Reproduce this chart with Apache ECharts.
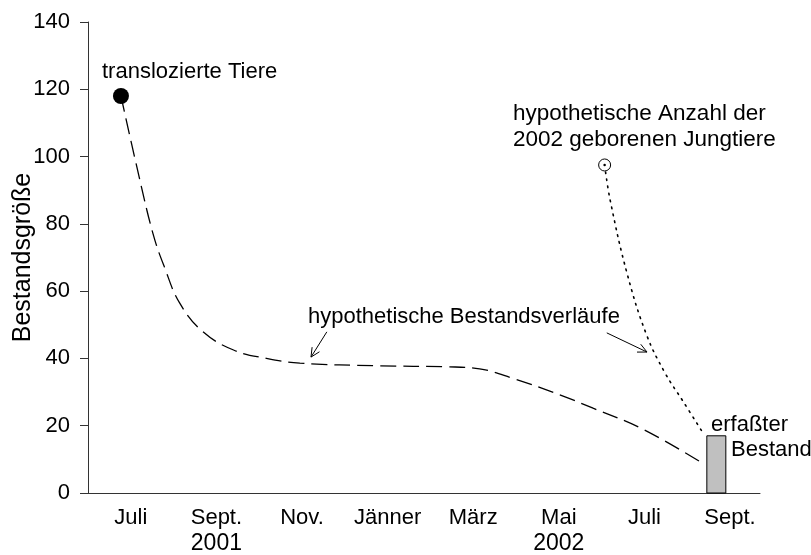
<!DOCTYPE html>
<html>
<head>
<meta charset="utf-8">
<script src="https://cdn.jsdelivr.net/npm/echarts@6/dist/echarts.min.js"></script>
<style>
    html, body { margin: 0; padding: 0; background: #fff; }
    #chart { width: 811px; height: 555px; }
</style>
</head>
<body>
<div id="chart"></div>
<script>
    // Monate ab Juli 2001 (0) bis Sept. 2002 (14)
    const monatPos = [0, 2, 4, 6, 8, 10, 12, 14];
    const monatNamen = ['Juli', 'Sept.', 'Nov.', 'Jänner', 'März', 'Mai', 'Juli', 'Sept.'];
    const jahrLabels = { 2: '2001', 10: '2002' };
    const yTicks = [0, 20, 40, 60, 80, 100, 120, 140];

    // hypothetischer Bestandsverlauf (gestrichelt)
    const bestandKurve = [
        [-0.23, 118], [0.14, 97], [0.52, 77], [0.79, 67], [1.14, 56.5], [1.68, 48],
        [2.4, 42.5], [3.17, 40], [3.95, 38.6], [5.8, 37.8], [7.4, 37.5], [8.15, 36.9],
        [8.9, 34.2], [10.1, 28.8], [10.8, 25.2], [11.96, 19], [13.34, 9]
    ];
    // hypothetische Jungtiere (punktiert)
    const jungtierKurve = [
        [11.07, 97.5], [11.2, 87], [11.6, 65], [12.05, 47], [12.48, 35.7], [12.9, 27.3], [13.37, 17.8]
    ];
    const translozierte = [[-0.23, 118]];
    const jungtierPunkt = [[11.07, 97.5]];
    const erfassterBestand = [[13.68, 17]];

    // Pfeile: [von, nach] in Datenkoordinaten
    const pfeile = [
        [[4.58, 47.9], [4.21, 40.4]],
        [[11.12, 47.6], [12.06, 41.9]]
    ];

    const font = 'Liberation Sans, Arial, sans-serif';
    const chart = echarts.init(document.getElementById('chart'));

    const option = {
        animation: false,
        grid: { left: 88, right: 51, top: 22, bottom: 62, containLabel: false, outerBoundsMode: 'none' },
        xAxis: {
            type: 'value',
            min: -1,
            max: 14.7,
            splitLine: { show: false },
            axisLine: { show: true, onZero: false, lineStyle: { color: '#333', width: 1 } },
            axisTick: { show: false },
            axisLabel: {
                customValues: monatPos,
                margin: 12,
                color: '#000',
                fontFamily: font,
                formatter: function (v) {
                    const i = monatPos.indexOf(v);
                    if (i < 0) return '';
                    let s = '{m|' + monatNamen[i] + '}';
                    if (jahrLabels[v]) s += '\n{y|' + jahrLabels[v] + '}';
                    return s;
                },
                rich: {
                    m: { fontSize: 22, fontFamily: font, color: '#000', lineHeight: 26 },
                    y: { fontSize: 23, fontFamily: font, color: '#000', lineHeight: 26 }
                }
            }
        },
        yAxis: {
            type: 'value',
            min: 0,
            max: 140,
            interval: 20,
            name: 'Bestandsgröße',
            nameLocation: 'middle',
            nameGap: 52,
            nameMoveOverlap: false,
            nameTextStyle: { fontSize: 25, fontFamily: font, color: '#000' },
            splitLine: { show: false },
            axisLine: { show: true, onZero: false, lineStyle: { color: '#333', width: 1 } },
            axisTick: { show: true, inside: false, length: 8, lineStyle: { color: '#333' } },
            axisLabel: {
                margin: 18,
                fontSize: 22,
                fontFamily: font,
                color: '#000',
                formatter: v => yTicks.indexOf(v) >= 0 ? String(v) : ''
            }
        },
        series: [
            {
                // Balken als custom series, damit die x-Achse nicht verschoben wird
                type: 'custom',
                data: erfassterBestand,
                renderItem: function (params, api) {
                    const top = api.coord([api.value(0), api.value(1)]);
                    const base = api.coord([api.value(0), 0]);
                    const w = 19;
                    return {
                        type: 'rect',
                        shape: { x: top[0] - w / 2, y: top[1], width: w, height: base[1] - top[1] },
                        style: { fill: '#c0c0c0', stroke: '#000', lineWidth: 1 }
                    };
                },
                z: 1
            },
            {
                type: 'line',
                data: bestandKurve,
                smooth: 0.4,
                showSymbol: false,
                symbol: 'none',
                lineStyle: { color: '#000', width: 1.3, type: [16, 7] },
                z: 2
            },
            {
                type: 'line',
                data: jungtierKurve,
                smooth: 0.4,
                showSymbol: false,
                symbol: 'none',
                lineStyle: { color: '#000', width: 1.6, type: [1.6, 5.5], cap: 'round' },
                z: 2
            },
            {
                type: 'scatter',
                data: translozierte,
                symbolSize: 16,
                itemStyle: { color: '#000', opacity: 1 },
                z: 3
            },
            {
                type: 'scatter',
                data: jungtierPunkt,
                symbolSize: 12,
                itemStyle: { color: '#fff', borderColor: '#000', borderWidth: 1, opacity: 1 },
                z: 3
            },
            {
                type: 'scatter',
                data: jungtierPunkt,
                symbolSize: 2.5,
                itemStyle: { color: '#000', opacity: 1 },
                z: 4
            }
        ]
    };
    chart.setOption(option);

    // Beschriftungen und Pfeile
    function txt(x, y, s, size) {
        return {
            type: 'text', x: x, y: y,
            style: { text: s, font: size + 'px ' + font, fill: '#000', textVerticalAlign: 'middle', lineHeight: 25 }
        };
    }
    const graphics = [
        txt(102, 72, 'translozierte Tiere', 22),
        { type: 'text', x: 513, y: 101,
          style: { text: 'hypothetische Anzahl der\n2002 geborenen Jungtiere', font: '22.5px ' + font, fill: '#000', lineHeight: 26 } },
        txt(308, 317, 'hypothetische Bestandsverläufe', 22),
        txt(711, 425, 'erfaßter', 22),
        txt(731, 450, 'Bestand', 22)
    ];
    pfeile.forEach(p => {
        const a = chart.convertToPixel({ gridIndex: 0 }, p[0]);
        const b = chart.convertToPixel({ gridIndex: 0 }, p[1]);
        const ang = Math.atan2(b[1] - a[1], b[0] - a[0]);
        const len = 10, spread = 0.45;
        graphics.push({
            type: 'line',
            shape: { x1: a[0], y1: a[1], x2: b[0], y2: b[1] },
            style: { stroke: '#000', lineWidth: 1 }
        });
        graphics.push({
            type: 'polyline',
            shape: { points: [
                [b[0] - len * Math.cos(ang - spread), b[1] - len * Math.sin(ang - spread)],
                [b[0], b[1]],
                [b[0] - len * Math.cos(ang + spread), b[1] - len * Math.sin(ang + spread)]
            ] },
            style: { stroke: '#000', lineWidth: 1, fill: null }
        });
    });
    chart.setOption({ graphic: graphics });
</script>
</body>
</html>
